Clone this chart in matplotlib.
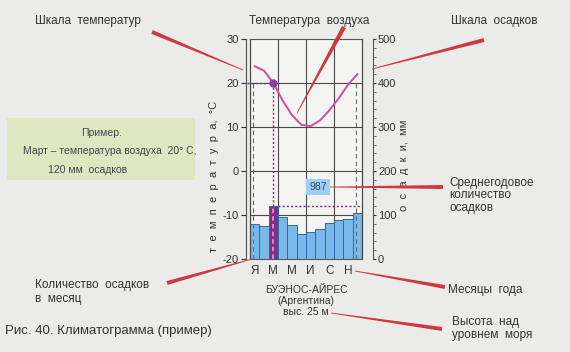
import numpy as np
import matplotlib
matplotlib.use("Agg")
import matplotlib.pyplot as plt
from matplotlib.patches import Polygon, Rectangle

plt.rcParams['font.family'] = ['Liberation Sans', 'DejaVu Sans']
plt.rcParams['axes.unicode_minus'] = False
NARROW = ['Liberation Sans Narrow', 'Liberation Sans', 'DejaVu Sans']

W, H = 570, 352

MONTHS = ["Я", "Ф", "М", "А", "М", "И", "И", "А", "С", "О", "Н", "Д"]
MONTH_TICKS = [0, 2, 4, 6, 8, 10]
TEMP = [23.8, 22.8, 20.0, 16.0, 12.7, 10.5, 10.2, 11.5, 13.8, 16.5, 19.6, 22.0]
PRECIP = [79, 74, 120, 95, 77, 56, 62, 68, 81, 88, 91, 105]
TEMP_TICKS = [-20, -10, 0, 10, 20, 30]
PRECIP_TICKS = [0, 100, 200, 300, 400, 500]
HILITE = 2           # March
ANNUAL = "987"

BG, PLOT_BG = "#ebebe9", "#f4f4f2"
RED = "#cf3a40"
BAR, BAR_EDGE = "#79b8ea", "#2d6aa8"
PURPLE, CURVE = "#7d2e86", "#d64b9e"
INK = "#333333"


def fx(x, y):
    return x / W, 1 - y / H


def taper(x0, y0, x1, y1, w0, w1):
    # red pointer line, width w0 at (x0,y0) going to w1 at (x1,y1), pixel coords
    d = np.array([x1 - x0, y1 - y0], float)
    n = np.array([-d[1], d[0]]) / np.hypot(*d)
    p0, p1 = np.array([x0, y0]), np.array([x1, y1])
    pts = [p0 + n * w0 / 2, p1 + n * w1 / 2, p1 - n * w1 / 2, p0 - n * w0 / 2]
    pts = [fx(*p) for p in pts]
    fig.patches.append(Polygon(pts, closed=True, transform=fig.transFigure,
                               facecolor=RED, edgecolor="none", zorder=5))


fig = plt.figure(figsize=(W / 100, H / 100), dpi=100, facecolor=BG)
ax = fig.add_axes([250 / W, 1 - 259 / H, 112 / W, 220 / H])
ax2 = ax.twinx()
ax.set_zorder(ax2.get_zorder() + 1)
ax.patch.set_visible(False)
ax2.patch.set_visible(True)
ax2.patch.set_facecolor(PLOT_BG)

x = np.arange(12)
ax.set_xlim(-0.5, 11.5)
ax.set_ylim(-20, 30)
ax2.set_ylim(0, 500)

# precipitation bars
colors = [PURPLE if i == HILITE else BAR for i in x]
ax2.bar(x, PRECIP, width=1.0, color=colors, edgecolor=BAR_EDGE, linewidth=0.7, zorder=2)
ax2.plot([HILITE, HILITE], [0, PRECIP[HILITE]], color="#e9a6d8", lw=1.1, ls=(0, (3, 2)), zorder=3)

# grid
for v in PRECIP_TICKS[1:-1]:
    ax2.axhline(v, color="#4a4a4a", lw=0.8, zorder=1)
for v in [2.5, 5.5, 8.5]:
    ax2.axvline(v, color="#4a4a4a", lw=0.8, zorder=1)
for v in [-0.5, 11.5]:
    ax2.axvline(v, color="#4a4a4a", lw=0.9, zorder=4, clip_on=False)
for i in [0, 11]:
    ax2.plot([i - 0.15, i - 0.15], [0, 400], color="#666666", lw=0.8, ls=(0, (4, 3)), zorder=3)

# temperature
ax.plot(x, TEMP, color=CURVE, lw=1.4, solid_joinstyle="round", zorder=4)
ax.plot([-0.8, HILITE], [TEMP[HILITE]] * 2, color=PURPLE, lw=1.0, ls=(0, (1.5, 1.5)), clip_on=False)
ax.plot([HILITE, HILITE], [PRECIP[HILITE] / 10 - 20, TEMP[HILITE]], color=PURPLE, lw=1.0, ls=(0, (1.5, 1.5)))
ax2.plot([HILITE + 0.5, 11.5], [PRECIP[HILITE]] * 2, color=PURPLE, lw=1.0, ls=(0, (1.5, 1.5)), zorder=3)
ax.plot([HILITE], [TEMP[HILITE]], "o", color="#8e3c9c", ms=5, zorder=5)

# axes styling
for a in (ax, ax2):
    for s in a.spines.values():
        s.set_color("#555555")
        s.set_linewidth(0.8)
ax.spines["right"].set_visible(False)
ax2.spines["left"].set_visible(False)
ax2.spines["top"].set_visible(False)
ax2.spines["bottom"].set_visible(False)
ax.spines["left"].set_position(("outward", 3))
ax2.spines["right"].set_position(("outward", 8))

ax.set_yticks(TEMP_TICKS)
ax.tick_params(axis="y", length=3.5, width=0.8, pad=1.5, labelsize=8, colors=INK)
ax2.set_yticks(PRECIP_TICKS)
ax2.set_yticks(np.arange(0, 501, 20), minor=True)
ax2.tick_params(axis="y", which="major", length=2.5, width=0.8, pad=1, labelsize=8, colors=INK)
ax2.tick_params(axis="y", which="minor", length=1.8, width=0.6, colors="#555555")
for lbl in ax.get_yticklabels() + ax2.get_yticklabels():
    lbl.set_family(NARROW)
ax.set_xticks(MONTH_TICKS)
ax.set_xticklabels([MONTHS[i] for i in MONTH_TICKS])
ax.tick_params(axis="x", length=0, pad=4, labelsize=8.5, colors=INK)

fig.text(*fx(214, 176), "т  е  м  п  е  р  а  т  у  р  а,  °С", rotation=90,
         ha="center", va="center", fontsize=8, color=INK)
fig.text(*fx(404, 165), "о  с  а  д  к  и,  мм", rotation=90,
         ha="center", va="center", fontsize=8, color=INK)

# annual precipitation label
fig.text(*fx(318, 187), ANNUAL, ha="center", va="center", fontsize=7.5, color="#2a4a70",
         family=NARROW,
         bbox=dict(boxstyle="square,pad=0.3", facecolor="#9fd0f2", edgecolor="none"))

# example box
fig.patches.append(Rectangle(fx(7, 180), 188 / W, 62 / H, transform=fig.transFigure,
                             facecolor="#dfe7c2", edgecolor="none"))
box = dict(ha="center", va="center", fontsize=7.5, color="#444444", family=NARROW)
fig.text(*fx(102, 133), "Пример.", **box)
fig.text(*fx(110, 151), "Март – температура воздуха  20° С,", **box)
fig.text(*fx(88, 170), "120 мм  осадков", **box)

# callouts
lab = dict(fontsize=8.5, color=INK, va="center")
fig.text(*fx(35, 21), "Шкала  температур", ha="left", **lab)
fig.text(*fx(309, 21), "Температура  воздуха", ha="center", **lab)
fig.text(*fx(451, 21), "Шкала  осадков", ha="left", **lab)
for yy, t in zip([183, 195, 208], ["Среднегодовое", "количество", "осадков"]):
    fig.text(*fx(449, yy), t, ha="left", **lab)
fig.text(*fx(35, 285), "Количество  осадков", ha="left", **lab)
fig.text(*fx(35, 299), "в  месяц", ha="left", **lab)
fig.text(*fx(448, 290), "Месяцы  года", ha="left", **lab)
fig.text(*fx(452, 322), "Высота  над", ha="left", **lab)
fig.text(*fx(452, 335), "уровнем  моря", ha="left", **lab)
for yy, t in zip([290, 301, 312], ["БУЭНОС-АЙРЕС", "(Аргентина)", "выс. 25 м"]):
    fig.text(*fx(306, yy), t, ha="center", va="center", fontsize=7.5, color=INK, family=NARROW)
fig.text(*fx(5, 331), "Рис. 40. Климатограмма (пример)", ha="left", va="center",
         fontsize=9.5, color=INK)

taper(152, 32, 243, 70, 4.0, 0.8)
taper(344, 27, 297, 113, 4.5, 0.8)
taper(484, 40, 372, 69, 4.0, 0.8)
taper(443, 187, 330, 187, 4.0, 0.8)
taper(167, 283, 252, 259, 4.0, 0.8)
taper(445, 287, 355, 271, 4.0, 0.8)
taper(442, 329, 331, 313, 4.0, 0.8)

fig.savefig("out.png", dpi=100, facecolor=BG)
